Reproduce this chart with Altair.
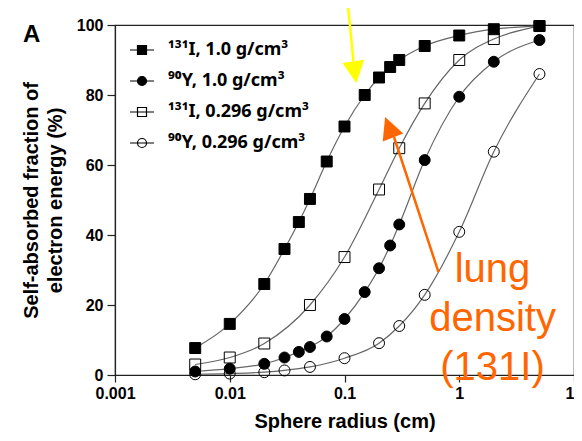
import altair as alt
import pandas as pd

FONT = "Liberation Sans"
LEG_FONT = "Noto Sans"

# ---- data (sphere radius in cm, self-absorbed fraction in %) ----
series_names = ["¹³¹I, 1.0 g/cm³", "⁹⁰Y, 1.0 g/cm³", "¹³¹I, 0.296 g/cm³", "⁹⁰Y, 0.296 g/cm³"]

r_i131_dense = [0.005, 0.01, 0.02, 0.03, 0.04, 0.05, 0.07, 0.1, 0.15, 0.2, 0.25, 0.3, 0.5, 1, 2, 5]
v_i131_dense = [7.7, 14.6, 26, 36, 43.7, 50.3, 61, 71, 80, 85, 88, 90, 94, 97, 98.8, 99.7]

r_y90_dense = [0.005, 0.01, 0.02, 0.03, 0.04, 0.05, 0.07, 0.1, 0.15, 0.2, 0.25, 0.3, 0.5, 1, 2, 5]
v_y90_dense = [1, 1.8, 3.2, 5, 6.6, 8, 11, 16, 23.7, 30.5, 37, 43, 61.4, 79.5, 89.5, 95.7]

r_i131_lung = [0.005, 0.01, 0.02, 0.05, 0.1, 0.2, 0.3, 0.5, 1, 2, 5]
v_i131_lung = [3, 5, 9, 20, 33.7, 53, 64.8, 77.6, 90, 96, 99.7]

r_y90_lung = [0.005, 0.01, 0.02, 0.03, 0.05, 0.1, 0.2, 0.3, 0.5, 1, 2, 5]
v_y90_lung = [0.2, 0.4, 0.8, 1.3, 2.3, 4.8, 9.1, 14, 22.9, 40.9, 63.8, 86]

x_ticks = [0.001, 0.01, 0.1, 1, 10]
y_ticks = [0, 20, 40, 60, 80, 100]

rows = []
for name, xs, ys in zip(series_names,
                        [r_i131_dense, r_y90_dense, r_i131_lung, r_y90_lung],
                        [v_i131_dense, v_y90_dense, v_i131_lung, v_y90_lung]):
    for xv, yv in zip(xs, ys):
        rows.append({"series": name, "r": xv, "v": yv})
df = pd.DataFrame(rows)

# annotations (in data units)
yellow_line = pd.DataFrame({"r": [0.1061], "v": [107.1], "r2": [0.1196], "v2": [89.7]})
yellow_head = pd.DataFrame({"r": [0.1231], "v": [86.5]})
orange_line = pd.DataFrame({"r": [0.659], "v": [29.4], "r2": [0.270], "v2": [68.0]})
orange_head = pd.DataFrame({"r": [0.2444], "v": [70.8]})
orange_text = pd.DataFrame({"r": [1.95], "v": [26.6], "t": ["lung\ndensity\n(131I)"]})
panel_label = pd.DataFrame({"t": ["A"]})

xscale = alt.Scale(type="log", domain=[0.001, 10], nice=False)
yscale = alt.Scale(domain=[0, 100], nice=False, zero=False)

x_enc = alt.X("r:Q", scale=xscale, axis=alt.Axis(
    values=x_ticks, format="~g", title="Sphere radius (cm)", grid=False,
    tickSize=7, labelPadding=3, labelFlush=False, labelOverlap=False,
    titleY=52, titleBaseline="alphabetic", titleFontSize=20))
y_enc = alt.Y("v:Q", scale=yscale, axis=alt.Axis(
    values=y_ticks, title=["Self-absorbed fraction of", "electron energy  (%)"],
    grid=False, tickSize=8, labelPadding=4, labelFlush=False, labelOverlap=False,
    titleX=-78, titleY=175, titleBaseline="alphabetic", titleAngle=270,
    titleLineHeight=24, titleAlign="center", titleFontSize=20))

base = alt.Chart(df)

lines = base.mark_line(interpolate="monotone", color="#666666", strokeWidth=1.2).encode(
    x=x_enc, y=y_enc, detail="series:N")

points = base.mark_point(filled=True, size=120, stroke="black", strokeWidth=1, opacity=1).encode(
    x=alt.X("r:Q", scale=xscale), y=alt.Y("v:Q", scale=yscale),
    shape=alt.Shape("series:N", scale=alt.Scale(domain=series_names,
                    range=["square", "circle", "square", "circle"]), legend=None),
    fill=alt.Fill("series:N", scale=alt.Scale(domain=series_names,
                  range=["black", "black", "transparent", "transparent"]), legend=None),
)

sq = "M-1,0H1M-0.375,-0.375H0.375V0.375H-0.375Z"
ci = "M-1,0H1M-0.375,0A0.375,0.375,0,1,1,0.375,0A0.375,0.375,0,1,1,-0.375,0Z"
leg = alt.Legend(title=None, orient="none", legendX=14, legendY=12, symbolSize=576,
                 symbolStrokeWidth=1.2)
legend_layer = base.transform_filter("datum.v < -1000").mark_point(
    filled=False, size=576, strokeWidth=1.2, opacity=1).encode(
    x=alt.X("r:Q", scale=xscale), y=alt.Y("v:Q", scale=yscale),
    shape=alt.Shape("series:N", scale=alt.Scale(domain=series_names, range=[sq, ci, sq, ci]), legend=leg),
    fill=alt.Fill("series:N", scale=alt.Scale(domain=series_names,
                  range=["black", "black", "transparent", "transparent"]), legend=leg),
    stroke=alt.Stroke("series:N", scale=alt.Scale(domain=series_names,
                      range=["black", "black", "black", "black"]), legend=leg),
)

head_path_down = "M-1,-1L1,-1L0,1Z"
head_path_up = "M-1,1L1,1L0,-1Z"

y_line = alt.Chart(yellow_line).mark_rule(color="#ffff00", strokeWidth=2.5).encode(
    x=alt.X("r:Q", scale=xscale), y=alt.Y("v:Q", scale=yscale), x2="r2:Q", y2="v2:Q")
y_head = alt.Chart(yellow_head).mark_point(shape=head_path_down, filled=True, size=484, angle=352,
                                           color="#ffff00", opacity=1, strokeWidth=0).encode(
    x=alt.X("r:Q", scale=xscale), y=alt.Y("v:Q", scale=yscale))
o_line = alt.Chart(orange_line).mark_rule(color="#ff6600", strokeWidth=2.5).encode(
    x=alt.X("r:Q", scale=xscale), y=alt.Y("v:Q", scale=yscale), x2="r2:Q", y2="v2:Q")
o_head = alt.Chart(orange_head).mark_point(shape=head_path_up, filled=True, size=484, angle=339,
                                           color="#ff6600", opacity=1, strokeWidth=0).encode(
    x=alt.X("r:Q", scale=xscale), y=alt.Y("v:Q", scale=yscale))
o_text = alt.Chart(orange_text).mark_text(font=FONT, fontSize=40, color="#ff6600", align="center",
                                          baseline="alphabetic", lineBreak="\n", lineHeight=49).encode(
    x=alt.X("r:Q", scale=xscale), y=alt.Y("v:Q", scale=yscale), text="t:N")
a_text = alt.Chart(panel_label).mark_text(font=FONT, fontSize=24, fontWeight="bold", color="black",
                                          align="left", baseline="alphabetic").encode(
    x=alt.value(-92), y=alt.value(17), text="t:N")

chart = alt.layer(lines, points, legend_layer, y_line, y_head, o_line, o_head, o_text, a_text).resolve_scale(
    shape="independent", fill="independent", stroke="independent"
).properties(
    width=459, height=350,
    autosize=alt.AutoSizeParams(type="none"),
    padding={"left": 107, "top": 17, "right": 0, "bottom": 58},
    background="white",
).configure_view(
    stroke="#222222", strokeWidth=1.2
).configure_axis(
    labelFont=FONT, labelFontSize=16, labelFontWeight="bold", labelColor="black",
    titleFont=FONT, titleFontSize=19, titleFontWeight="bold", titleColor="black",
    domainColor="#222222", domainWidth=1.2, tickColor="#222222", tickWidth=1.2,
).configure_legend(
    labelFont=LEG_FONT, labelFontSize=18, labelFontWeight="bold", labelColor="black",
    symbolSize=576, symbolStrokeWidth=1.2, symbolStrokeColor="black",
    labelOffset=13, rowPadding=9, padding=0, labelLimit=0,
)

chart.save("out.html", embed_options={"renderer": "svg", "actions": False})
